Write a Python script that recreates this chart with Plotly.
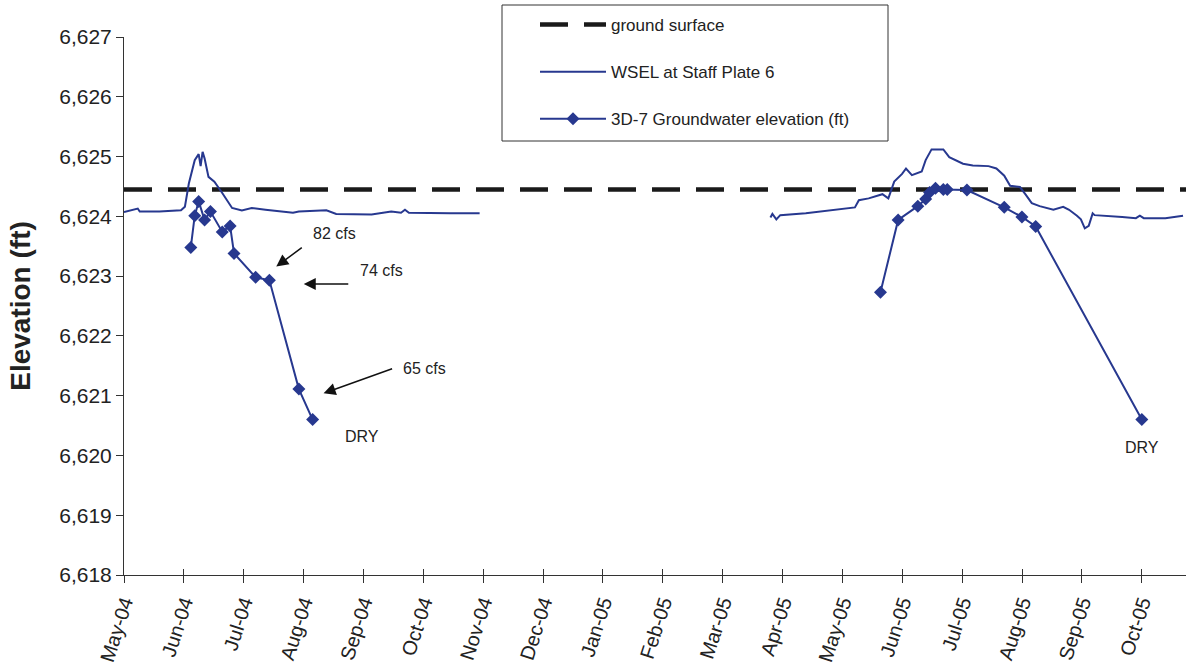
import pandas as pd
import plotly.graph_objects as go

# ---- data -------------------------------------------------------------
ground_surface = 6624.45

wsel_2004_dates = ["2004-05-01", "2004-05-08", "2004-05-09", "2004-05-19", "2004-05-30",
                   "2004-06-01", "2004-06-03", "2004-06-06", "2004-06-08", "2004-06-09",
                   "2004-06-10", "2004-06-11", "2004-06-13", "2004-06-16", "2004-06-20",
                   "2004-06-25", "2004-06-30", "2004-07-05", "2004-07-12", "2004-07-19",
                   "2004-07-26", "2004-07-29", "2004-08-12", "2004-08-17", "2004-09-04",
                   "2004-09-14", "2004-09-19", "2004-09-21", "2004-09-23", "2004-10-14",
                   "2004-10-29"]
wsel_2004_values = [6624.07, 6624.13, 6624.08, 6624.08, 6624.10,
                    6624.16, 6624.55, 6624.94, 6625.04, 6624.84,
                    6625.08, 6624.97, 6624.66, 6624.58, 6624.39,
                    6624.14, 6624.10, 6624.14, 6624.11, 6624.08,
                    6624.06, 6624.08, 6624.10, 6624.04, 6624.03,
                    6624.08, 6624.06, 6624.11, 6624.06, 6624.05,
                    6624.05]

wsel_2005_dates = ["2005-03-26", "2005-03-27", "2005-03-29", "2005-03-31", "2005-04-13",
                   "2005-04-29", "2005-05-03", "2005-05-08", "2005-05-10", "2005-05-15",
                   "2005-05-22", "2005-05-25", "2005-05-28", "2005-06-01", "2005-06-03",
                   "2005-06-06", "2005-06-11", "2005-06-13", "2005-06-16", "2005-06-22",
                   "2005-06-25", "2005-06-29", "2005-07-02", "2005-07-07", "2005-07-15",
                   "2005-07-19", "2005-07-23", "2005-07-26", "2005-07-31", "2005-08-03",
                   "2005-08-06", "2005-08-10", "2005-08-17", "2005-08-22", "2005-08-25",
                   "2005-08-29", "2005-08-31", "2005-09-02", "2005-09-04", "2005-09-06",
                   "2005-09-07", "2005-09-21", "2005-09-28", "2005-09-30", "2005-10-02",
                   "2005-10-13", "2005-10-22"]
wsel_2005_values = [6623.98, 6624.04, 6623.95, 6624.02, 6624.05,
                    6624.12, 6624.14, 6624.15, 6624.27, 6624.30,
                    6624.37, 6624.30, 6624.58, 6624.71, 6624.80,
                    6624.69, 6624.75, 6624.94, 6625.12, 6625.12,
                    6624.99, 6624.93, 6624.88, 6624.85, 6624.84,
                    6624.80, 6624.68, 6624.51, 6624.49, 6624.36,
                    6624.22, 6624.17, 6624.11, 6624.16, 6624.11,
                    6624.01, 6623.95, 6623.80, 6623.84, 6624.05,
                    6624.02, 6623.99, 6623.97, 6624.01, 6623.97,
                    6623.97, 6624.01]

gw_2004_dates = ["2004-06-04", "2004-06-06", "2004-06-08", "2004-06-11", "2004-06-14",
                 "2004-06-20", "2004-06-24", "2004-06-26", "2004-07-07", "2004-07-14",
                 "2004-07-29", "2004-08-05"]
gw_2004_values = [6623.48, 6624.01, 6624.25, 6623.94, 6624.08,
                  6623.74, 6623.84, 6623.38, 6622.98, 6622.93,
                  6621.11, 6620.60]

gw_2005_dates = ["2005-05-21", "2005-05-30", "2005-06-09", "2005-06-13", "2005-06-15",
                 "2005-06-18", "2005-06-22", "2005-06-24", "2005-07-04", "2005-07-23",
                 "2005-08-01", "2005-08-08", "2005-10-01"]
gw_2005_values = [6622.73, 6623.94, 6624.17, 6624.29, 6624.40,
                  6624.47, 6624.45, 6624.45, 6624.44, 6624.15,
                  6623.99, 6623.83, 6620.60]

month_labels = ["May-04", "Jun-04", "Jul-04", "Aug-04", "Sep-04", "Oct-04", "Nov-04",
                "Dec-04", "Jan-05", "Feb-05", "Mar-05", "Apr-05", "May-05", "Jun-05",
                "Jul-05", "Aug-05", "Sep-05", "Oct-05"]

# flow notes: (text, date, elevation) and arrows: (head date, head elevation, dx, dy)
flow_labels = [("82 cfs", "2004-08-16", 6623.71),
               ("74 cfs", "2004-09-09", 6623.09),
               ("65 cfs", "2004-10-01", 6621.46),
               ("DRY", "2004-08-30", 6620.31),
               ("DRY", "2005-10-01", 6620.13)]
flow_arrows = [("2004-07-17 12:00", 6623.16, 27, -20),
               ("2004-07-31 12:00", 6622.87, 46, 0),
               ("2004-08-10 14:00", 6621.04, 70, -25)]

# ---- axis extent / ticks ---------------------------------------------
x_start = pd.Timestamp("2004-05-01")
x_end = pd.Timestamp("2005-10-23 12:00")
tick_step = pd.Timedelta(days=30.47)
tick_vals = [x_start + k * tick_step for k in range(len(month_labels))]

FONT = "Liberation Sans, Arial, sans-serif"
TEXT = "#222222"
BLUE = "#27388f"

fig = go.Figure()

fig.add_trace(go.Scatter(
    x=[x_start, x_end], y=[ground_surface, ground_surface],
    mode="lines", name="ground surface",
    line=dict(color="#1a1a1a", width=4.5, dash="28px,16px"),
    legendgroup="g1", hoverinfo="skip"))

fig.add_trace(go.Scatter(
    x=wsel_2004_dates + [None] + wsel_2005_dates,
    y=wsel_2004_values + [None] + wsel_2005_values,
    mode="lines", name="WSEL at Staff Plate 6",
    line=dict(color=BLUE, width=2), connectgaps=False,
    legendgroup="g2"))

fig.add_trace(go.Scatter(
    x=gw_2004_dates + [None] + gw_2005_dates,
    y=gw_2004_values + [None] + gw_2005_values,
    mode="lines+markers", name="3D-7 Groundwater elevation (ft)",
    line=dict(color=BLUE, width=2), connectgaps=False,
    marker=dict(symbol="diamond", size=10, color=BLUE, line=dict(width=0)),
    legendgroup="g3"))

# invisible trace so the inside tick marks on xaxis2 are drawn
fig.add_trace(go.Scatter(x=[x_start], y=[None], xaxis="x2", showlegend=False,
                         hoverinfo="skip", mode="lines"))

annotations = []
for text, d, v in flow_labels:
    annotations.append(dict(x=d, y=v, xref="x", yref="y", text=text, showarrow=False,
                            xanchor="center", yanchor="middle",
                            font=dict(family=FONT, size=16, color=TEXT)))
for d, v, dx, dy in flow_arrows:
    annotations.append(dict(x=d, y=v, xref="x", yref="y", text="", showarrow=True,
                            ax=dx, ay=dy, arrowhead=2, arrowsize=1.6, arrowwidth=1.5,
                            arrowcolor="#111111", standoff=0))

# legend frame (the legend itself is drawn borderless inside it)
legend_frame = dict(type="rect", xref="paper", yref="paper",
                    x0=(502 - 124) / 1062, x1=(888 - 124) / 1062,
                    y0=(575 - 141) / 538, y1=(575 - 5) / 538,
                    line=dict(color="#333333", width=1), fillcolor="white", layer="above")

fig.update_layout(
    width=1190, height=667,
    margin=dict(l=124, r=4, t=37, b=92, autoexpand=False),
    paper_bgcolor="white", plot_bgcolor="white",
    font=dict(family=FONT, color=TEXT),
    showlegend=True,
    legend=dict(
        x=(535 - 124) / 1062, y=(575 - 7) / 538, xanchor="left", yanchor="top",
        bgcolor="rgba(0,0,0,0)", borderwidth=0,
        font=dict(family=FONT, size=17, color=TEXT),
        traceorder="grouped", tracegroupgap=22, itemwidth=66),
    shapes=[legend_frame],
    annotations=annotations,
    xaxis=dict(
        type="date", range=[x_start, x_end], automargin=False,
        tickmode="array", tickvals=tick_vals, ticktext=month_labels,
        tickangle=-72, tickfont=dict(family=FONT, size=20, color=TEXT),
        showline=True, linecolor="#333333", linewidth=1,
        ticks="outside", ticklen=7, tickcolor="#333333",
        showgrid=False, zeroline=False),
    xaxis2=dict(
        type="date", range=[x_start, x_end], overlaying="x", anchor="y", side="bottom",
        tickmode="array", tickvals=tick_vals, showticklabels=False,
        ticks="inside", ticklen=6, tickcolor="#333333",
        showgrid=False, zeroline=False, showline=False),
    yaxis=dict(
        range=[6618, 6627], dtick=1, tick0=6618, tickformat=",d", automargin=False,
        tickfont=dict(family=FONT, size=21, color=TEXT),
        showline=True, linecolor="#333333", linewidth=1,
        ticks="outside", ticklen=7, tickcolor="#333333",
        showgrid=False, zeroline=False,
        title=dict(text="<b>Elevation (ft)</b>", standoff=20,
                   font=dict(family=FONT, size=28, color=TEXT))),
)

fig.write_html("out.html")
